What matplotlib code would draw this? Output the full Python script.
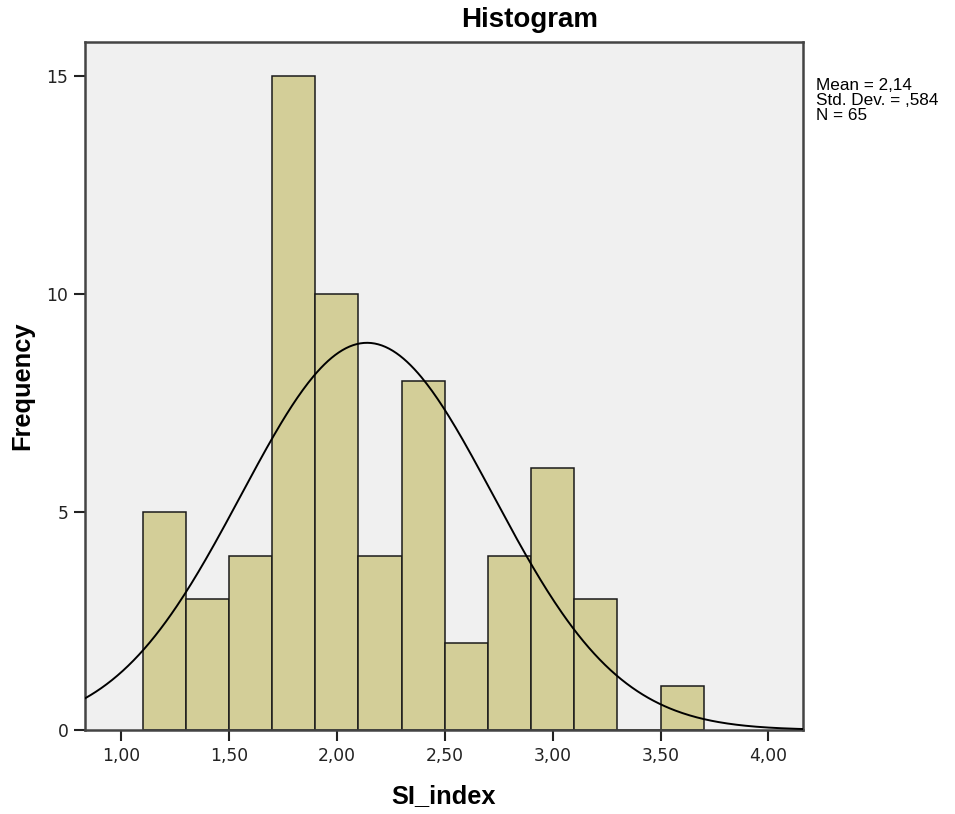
import numpy as np
import matplotlib
matplotlib.use("Agg")
import matplotlib.pyplot as plt

plt.rcParams['font.family'] = ['Liberation Sans', 'DejaVu Sans']

# Data
bin_edges = [1.1, 1.3, 1.5, 1.7, 1.9, 2.1, 2.3, 2.5, 2.7, 2.9, 3.1, 3.3, 3.5, 3.7]
counts = [5, 3, 4, 15, 10, 4, 8, 2, 4, 6, 3, 0, 1]
mean = 2.14
std = 0.584
n = 65
x_ticks = [1.0, 1.5, 2.0, 2.5, 3.0, 3.5, 4.0]
x_tick_labels = ["1,00", "1,50", "2,00", "2,50", "3,00", "3,50", "4,00"]
y_ticks = [0, 5, 10, 15]
stats_lines = ["Mean = 2,14", "Std. Dev. = ,584", "N = 65"]

fig = plt.figure(figsize=(9.55, 8.14), dpi=100)
ax = fig.add_axes([85/955, 1-730/814, (803-85)/955, (730-42)/814])
ax.set_facecolor('#F0F0F0')

lefts = bin_edges[:-1]
widths = np.diff(bin_edges)
ax.bar(lefts, counts, width=widths, align='edge', color='#D3CE98',
       edgecolor='#1a1a1a', linewidth=1.1, zorder=2)

xlo, xhi = 0.833, 4.16
bw = widths[0]
xs = np.linspace(xlo, xhi, 400)
ys = n * bw / (std * np.sqrt(2*np.pi)) * np.exp(-0.5*((xs-mean)/std)**2)
ax.plot(xs, ys, color='black', linewidth=1.4, zorder=3)

ax.set_xlim(xlo, xhi)
ax.set_ylim(0, 15.78)
ax.set_xticks(x_ticks)
ax.set_xticklabels(x_tick_labels)
ax.set_yticks(y_ticks)
ax.tick_params(axis='both', direction='out', length=8, width=1.5, color='#222222',
               labelsize=12.3, labelcolor='#222222', pad=4)
for lab in ax.get_xticklabels() + ax.get_yticklabels():
    lab.set_family('DejaVu Sans')
for s in ax.spines.values():
    s.set_color('#444444')
    s.set_linewidth(1.8)

ax.set_xlabel('SI_index', fontsize=18.3, fontweight='bold', labelpad=14)
ax.set_ylabel('Frequency', fontsize=18.3, fontweight='bold')
ax.yaxis.set_label_coords((34-85)/718, 0.5)
fig.text(530/955, 1-20/814, 'Histogram', fontsize=20, fontweight='bold',
         ha='center', va='center')
for i, line in enumerate(stats_lines):
    fig.text(816/955, 1-(86 + 14.5*i)/814, line,
             fontsize=12.3, ha='left', va='center')

fig.savefig('out.png', dpi=100)
